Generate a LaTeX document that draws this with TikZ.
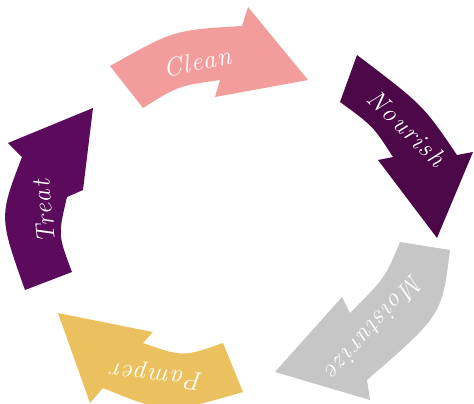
\documentclass[tikz,border=0pt]{standalone}
\usepackage{fontspec}
\usepackage{tikz}

\definecolor{cleanpink}{HTML}{F29C9C}
\definecolor{nourishplum}{HTML}{4C0748}
\definecolor{moistgray}{HTML}{C6C6C6}
\definecolor{pampergold}{HTML}{EAC15E}
\definecolor{treatplum}{HTML}{5C0A5C}

\newfontfamily\handfont{Latin Modern Roman}[LetterSpace=6]

\begin{document}
\begin{tikzpicture}[
  x=1pt,y=-1pt,
  lbl/.style={text=white,inner sep=0pt,
    font=\handfont\fontsize{26}{30}\selectfont\itshape}
]
\useasboundingbox (0,0) rectangle (474,404);
% top arrow
\fill[cleanpink] (110,66) .. controls (174,30) .. (242,26) -- (248,7) -- (308,80)
  -- (215,97) -- (220,80) .. controls (178,86) .. (143,108) -- cycle;
% right arrow
\fill[nourishplum] (357,55) .. controls (423,105) .. (457,155) -- (473,152) -- (437,238)
  -- (378,160) -- (393,157) .. controls (373,126) .. (340,102) -- cycle;
% lower right arrow
\fill[moistgray] (400,242) -- (450,250) .. controls (442,315) .. (367,380) -- (370,400)
  -- (275,372) -- (342,297) -- (350,313) .. controls (385,278) .. cycle;
% bottom arrow
\fill[pampergold] (223,343) -- (243,392) .. controls (167,414) .. (103,388) -- (90,403)
  -- (58,313) -- (153,332) -- (143,343) .. controls (183,357) .. cycle;
% left arrow
\fill[treatplum] (72,272) -- (25,290) .. controls (-1,217) .. (22,157) -- (8,143)
  -- (93,108) -- (83,190) -- (67,197) .. controls (58,235) .. cycle;

\node[lbl,rotate=11] (clean) at (197,62) {Clean};
\node[lbl,rotate=-44] (nourish) at (407,128) {Nourish};
\node[lbl,rotate=228] (moist) at (375,327) {Moisturize};
\node[lbl,rotate=174] (pamper) at (157,375) {Pamper};
\node[lbl,rotate=96] (treat) at (44,212) {Treat};
\end{tikzpicture}
\end{document}
